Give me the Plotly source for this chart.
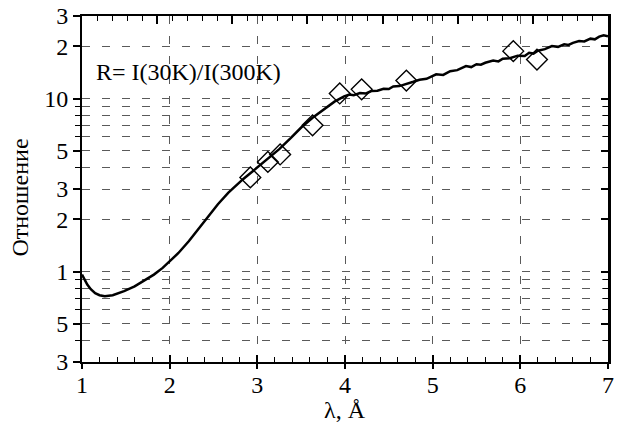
import plotly.graph_objects as go
import math

# Continuous ratio curve R(λ)
curve_x = [1.00, 1.03, 1.06, 1.10, 1.15, 1.20, 1.26, 1.35, 1.48, 1.60, 1.70, 1.82, 1.92, 2.00,
           2.10, 2.22, 2.33, 2.44, 2.55, 2.67, 2.76, 2.84, 2.92, 3.00, 3.12, 3.25, 3.38,
           3.50, 3.63, 3.76, 3.88, 3.99, 4.05, 4.10, 4.17, 4.24, 4.30, 4.37, 4.44, 4.50,
           4.55, 4.62, 4.70, 4.78, 4.85, 4.93, 5.04, 5.12, 5.20, 5.28, 5.38, 5.44, 5.50,
           5.55, 5.60, 5.69, 5.75, 5.80, 5.88, 5.97, 6.05, 6.10, 6.15, 6.20, 6.28, 6.36,
           6.43, 6.50, 6.55, 6.60, 6.67, 6.73, 6.80, 6.85, 6.90, 6.95, 7.00]
curve_y = [0.96, 0.90, 0.84, 0.79, 0.75, 0.73, 0.72, 0.73, 0.77, 0.82, 0.88, 0.96, 1.05, 1.14,
           1.28, 1.50, 1.76, 2.07, 2.45, 2.86, 3.16, 3.43, 3.70, 4.00, 4.50, 5.10, 5.90,
           6.80, 7.75, 8.70, 9.60, 10.30, 10.55, 10.45, 10.75, 10.70, 11.05, 11.10, 11.40, 11.35,
           11.75, 11.80, 12.10, 12.50, 12.85, 13.00, 13.80, 13.70, 14.40, 14.60, 15.40, 15.20, 15.80,
           15.70, 16.10, 16.60, 16.40, 17.00, 17.10, 17.70, 17.60, 18.40, 18.20, 18.90, 19.30, 20.10,
           19.90, 20.60, 20.40, 21.00, 21.50, 21.40, 22.20, 22.00, 22.80, 23.20, 22.90]

# Measured points (open diamonds)
pts_x = [2.92, 3.12, 3.26, 3.63, 3.94, 4.19, 4.70, 5.92, 6.19]
pts_y = [3.50, 4.30, 4.75, 7.00, 10.70, 11.30, 12.70, 18.80, 16.80]

# Axis ticks
y_major = [0.3, 0.5, 1, 2, 3, 5, 10, 20, 30]
y_major_text = ["3", "5", "1", "2", "3", "5", "10", "2", "3"]
y_minor = [0.4, 0.6, 0.7, 0.8, 0.9, 4, 6, 7, 8, 9]
x_major = [1, 2, 3, 4, 5, 6, 7]
x_major_text = ["1", "2", "3", "4", "5", "6", "7"]

annot_text = "R= I(30K)/I(300K)"
x_title = "λ, Å"
y_title = "Отношение"

FONT = "'Liberation Serif', 'Times New Roman', Times, serif"
FS = 24
eps = 1e-4
yr = [math.log10(0.3) - eps, math.log10(30) + eps]
xr = [1 - 1e-4, 7 + 1e-4]

fig = go.Figure()
fig.add_trace(go.Scatter(x=curve_x, y=curve_y, mode="lines",
                         line=dict(color="black", width=2.5), showlegend=False))
fig.add_trace(go.Scatter(x=pts_x, y=pts_y, mode="markers",
                         marker=dict(symbol="diamond-open", size=16, color="black",
                                     line=dict(width=1.4, color="black")),
                         showlegend=False))

GRID = dict(showgrid=True, gridcolor="#5a5a5a", gridwidth=1, griddash="8px,12px")
TF = dict(family=FONT, size=FS, color="black")

fig.update_layout(
    width=617, height=430,
    margin=dict(l=82, r=3, t=7, b=68),
    paper_bgcolor="white", plot_bgcolor="white",
    font=dict(family=FONT, color="black", size=FS),
    xaxis=dict(range=xr, tickmode="array", tickvals=x_major, ticktext=x_major_text,
               ticks="inside", ticklen=7, tickwidth=1.5, tickcolor="black",
               tickfont=TF, ticklabeloverflow="allow",
               showline=True, linecolor="black", linewidth=2, zeroline=False,
               minor=dict(tickmode="linear", tick0=1, dtick=0.2, ticks="inside",
                          ticklen=5, tickwidth=1.2, tickcolor="black", showgrid=False),
               **GRID),
    xaxis2=dict(range=[0, 7], overlaying="x", side="top", anchor="y",
                tickmode="linear", tick0=0, dtick=1, ticks="inside", ticklen=8,
                tickwidth=1.5, tickcolor="black", showticklabels=False,
                showline=True, linecolor="black", linewidth=2, showgrid=False, zeroline=False,
                minor=dict(tickmode="linear", tick0=0, dtick=0.2, ticks="inside",
                           ticklen=5, tickwidth=1.2, tickcolor="black", showgrid=False)),
    xaxis3=dict(range=xr, overlaying="x", side="bottom", anchor="y",
                tickmode="array", tickvals=x_major, ticks="outside", ticklen=6,
                tickwidth=1.5, tickcolor="black", showticklabels=False,
                showline=False, showgrid=False, zeroline=False),
    yaxis=dict(type="log", range=yr, tickmode="array", tickvals=y_major, ticktext=y_major_text,
               ticks="outside", ticklen=7, tickwidth=1.5, tickcolor="black",
               tickfont=TF, ticklabeloverflow="allow",
               showline=True, linecolor="black", linewidth=2, zeroline=False,
               minor=dict(tickmode="array", tickvals=y_minor, ticks="outside",
                          ticklen=5, tickwidth=1.2, tickcolor="black",
                          showgrid=True, gridcolor="#5a5a5a", gridwidth=1, griddash="8px,12px"),
               **GRID),
    yaxis2=dict(type="log", range=yr, overlaying="y", side="right", anchor="x",
                tickmode="array", tickvals=y_major, ticks="inside", ticklen=7,
                tickwidth=1.5, tickcolor="black", showticklabels=False,
                showline=True, linecolor="black", linewidth=2.5, showgrid=False, zeroline=False,
                minor=dict(tickmode="array", tickvals=y_minor, ticks="inside",
                           ticklen=5, tickwidth=1.2, tickcolor="black", showgrid=False)),
    annotations=[
        dict(text=annot_text, xref="paper", yref="paper", x=0.022, y=0.837,
             xanchor="left", yanchor="middle", showarrow=False,
             font=dict(family=FONT, size=FS, color="black")),
        dict(text=x_title, xref="paper", yref="paper", x=0.5, y=-0.14,
             xanchor="center", yanchor="middle", showarrow=False,
             font=dict(family=FONT, size=FS, color="black")),
        dict(text=y_title, xref="paper", yref="paper", x=-0.118, y=0.475,
             xanchor="center", yanchor="middle", showarrow=False, textangle=-90,
             font=dict(family=FONT, size=FS, color="black")),
    ],
)
# dummy traces so overlay axes render
fig.add_trace(go.Scatter(x=[None], y=[None], xaxis="x2", yaxis="y", showlegend=False, hoverinfo="skip"))
fig.add_trace(go.Scatter(x=[None], y=[None], xaxis="x3", yaxis="y", showlegend=False, hoverinfo="skip"))
fig.add_trace(go.Scatter(x=[None], y=[None], xaxis="x", yaxis="y2", showlegend=False, hoverinfo="skip"))

fig.write_html("out.html")
